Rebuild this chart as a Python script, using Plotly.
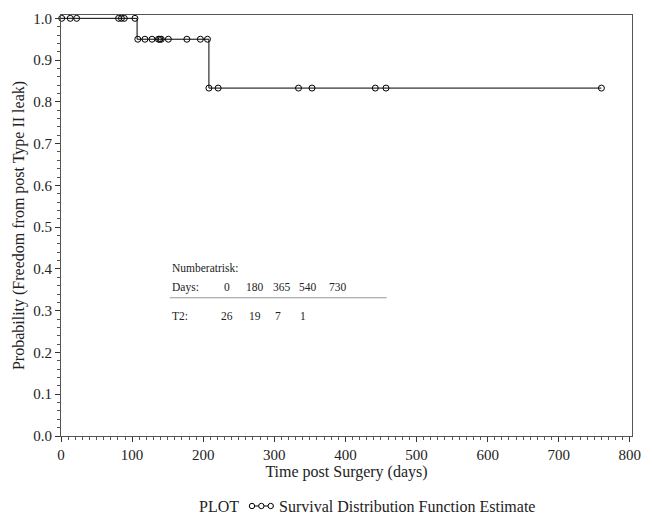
import plotly.graph_objects as go

# ---- data (days) ----
event_times = [107, 208]
surv_levels = [1.0, 0.95, 0.833]
end_time = 760
censor_times = [1, 13, 22, 81, 85, 89, 104,
                108, 118, 128, 137, 139, 141, 151, 177, 196, 206,
                208, 221, 334, 353, 442, 457, 760]

risk_days = ["0", "180", "365", "540", "730"]
risk_counts = ["26", "19", "7", "1"]
risk_group = "T2:"

x_ticks = [0, 100, 200, 300, 400, 500, 600, 700, 800]
y_ticks = [0.0, 0.1, 0.2, 0.3, 0.4, 0.5, 0.6, 0.7, 0.8, 0.9, 1.0]

legend_label = "Survival Distribution Function Estimate"
legend_title = "PLOT"

# ---- derived step curve ----
def surv_at(t):
    s = surv_levels[0]
    for et, lv in zip(event_times, surv_levels[1:]):
        if t >= et:
            s = lv
    return s

curve_x = [0] + event_times + [end_time]
curve_y = [surv_levels[0]] + surv_levels[1:] + [surv_levels[-1]]
cens_y = [surv_at(t) for t in censor_times]

FONT = "Liberation Serif"
W, H = 652, 514
ML, MR, MT, MB = 61, 11, 15, 78
PW, PH = W - ML - MR, H - MT - MB


def px_x(p):  # pixel -> paper x (layout helper)
    return (p - ML) / PW


def px_y(p):  # pixel -> paper y
    return (H - MB - p) / PH


fig = go.Figure()
fig.add_trace(go.Scatter(x=curve_x, y=curve_y, mode="lines", line_shape="hv",
                         line=dict(color="black", width=1), showlegend=False,
                         hoverinfo="skip"))
fig.add_trace(go.Scatter(x=censor_times, y=cens_y, mode="markers",
                         marker=dict(symbol="circle-open", size=6, color="black",
                                     line=dict(width=1)),
                         cliponaxis=False, showlegend=False))

# ---- number-at-risk table (layout positions in data units) ----
tbl_left = 153
col_x = [234, 272.6, 311.4, 347.8, 389]
val_x = [234, 272.6, 305, 340.5]
ann = [dict(x=tbl_left, y=0.402, text="Numberatrisk:", xanchor="left"),
       dict(x=tbl_left, y=0.356, text="Days:", xanchor="left"),
       dict(x=tbl_left, y=0.287, text=risk_group, xanchor="left")]
for cx, d in zip(col_x, risk_days):
    ann.append(dict(x=cx, y=0.356, text=d, xanchor="center"))
for vx, v in zip(val_x, risk_counts):
    ann.append(dict(x=vx, y=0.287, text=v, xanchor="center"))
for a in ann:
    a.update(xref="x", yref="y", showarrow=False, yanchor="middle",
             font=dict(family=FONT, size=11.5, color="#222"))

shapes = [dict(type="line", xref="x", yref="y", x0=tbl_left, x1=458, y0=0.331, y1=0.331,
               line=dict(color="#999", width=1))]

# ---- manual legend below the plot ----
leg_y = px_y(506)
ann.append(dict(x=px_x(244), y=leg_y, xref="paper", yref="paper", text=legend_title,
                xanchor="right", yanchor="middle", showarrow=False,
                font=dict(family=FONT, size=16, color="#222")))
ann.append(dict(x=px_x(280), y=leg_y, xref="paper", yref="paper", text=legend_label,
                xanchor="left", yanchor="middle", showarrow=False,
                font=dict(family=FONT, size=16, color="#222")))
shapes.append(dict(type="line", xref="paper", yref="paper", x0=px_x(252), x1=px_x(277),
                   y0=leg_y, y1=leg_y, line=dict(color="black", width=1)))
for cxp in (255, 264.5, 274):
    shapes.append(dict(type="circle", xref="paper", yref="paper",
                       xsizemode="pixel", ysizemode="pixel",
                       xanchor=px_x(cxp), yanchor=leg_y,
                       x0=-2.7, x1=2.7, y0=-2.7, y1=2.7,
                       line=dict(color="black", width=1), fillcolor="white"))

fig.update_layout(
    width=W, height=H,
    margin=dict(l=ML, r=MR, t=MT, b=MB),
    paper_bgcolor="white", plot_bgcolor="white",
    font=dict(family=FONT, size=15, color="#222"),
    annotations=ann, shapes=shapes,
    showlegend=False,
    xaxis=dict(range=[0, 803], tickvals=x_ticks, ticks="outside", ticklen=5,
               tickcolor="#333", showgrid=False, zeroline=False,
               showline=True, linecolor="#555", linewidth=1, mirror=True,
               minor=dict(dtick=10, ticks="outside", ticklen=3, tickcolor="#555",
                          showgrid=False),
               tickfont=dict(family=FONT, size=15),
               title=dict(text="Time post Surgery (days)", standoff=3,
                          font=dict(family=FONT, size=16))),
    yaxis=dict(range=[0, 1.008], tickvals=y_ticks, tickformat=".1f", ticks="outside",
               ticklen=5, tickcolor="#333", showgrid=False, zeroline=False,
               showline=True, linecolor="#555", linewidth=1, mirror=True,
               minor=dict(dtick=0.02, ticks="outside", ticklen=3, tickcolor="#555",
                          showgrid=False),
               tickfont=dict(family=FONT, size=15),
               title=dict(text="Probability (Freedom from post Type II leak)", standoff=4,
                          font=dict(family=FONT, size=16))),
)

fig.write_html("out.html", config={"displayModeBar": False},
               post_script="document.body.style.margin='0';document.body.style.overflow='hidden';")
